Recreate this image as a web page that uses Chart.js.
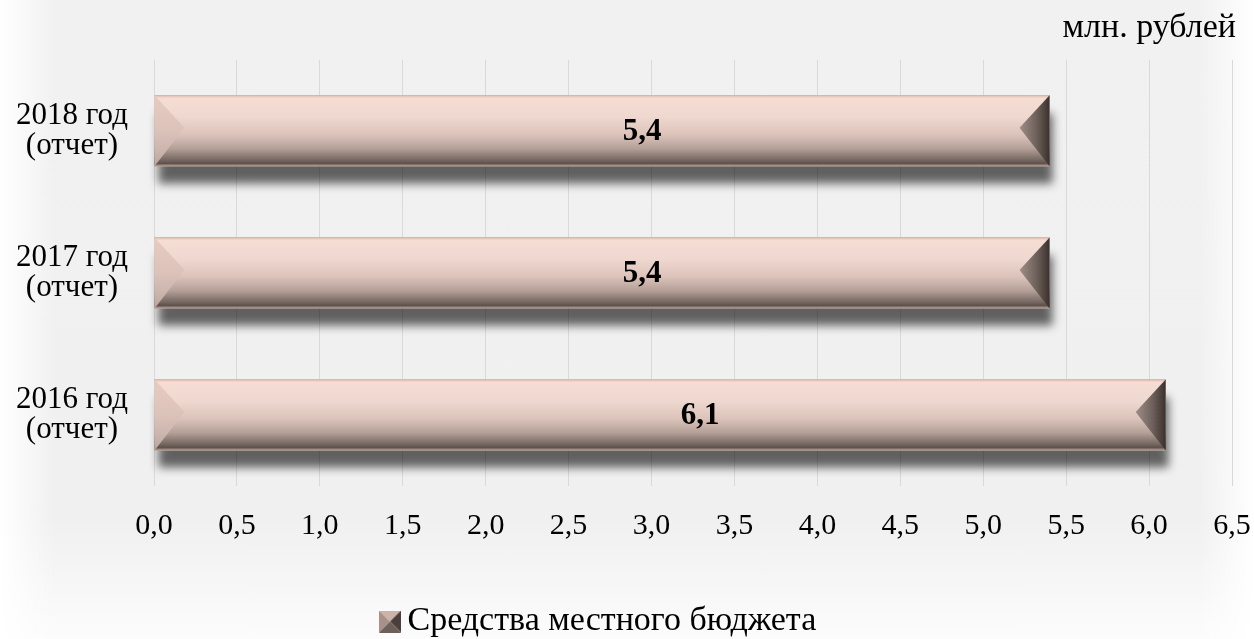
<!DOCTYPE html>
<html lang="ru">
<head>
<meta charset="utf-8">
<title>Средства местного бюджета</title>
<script src="https://cdn.jsdelivr.net/npm/chart.js@4.4.1/dist/chart.umd.min.js"></script>
<style>
  html, body { margin: 0; padding: 0; }
  body {
    width: 1254px;
    height: 639px;
    overflow: hidden;
    background:
      linear-gradient(to right, #fff 0, rgba(255,255,255,0) 55px, rgba(255,255,255,0) 1199px, #fff 1254px),
      linear-gradient(to bottom, #f1f1f1 0, #f0f0f0 520px, #fcfcfc 639px);
  }
  #wrap { position: relative; width: 1254px; height: 639px; }
</style>
</head>
<body>
<div id="wrap"><canvas id="chart"></canvas></div>
<script>
// Data
const years = ["2016 год", "2017 год", "2018 год"];
const yearNote = "(отчет)";
const values = [6.1, 5.4, 5.4];
const seriesName = "Средства местного бюджета";
const unitLabel = "млн. рублей";
const xMin = 0;
const xMax = 6.5;
const xStep = 0.5;

const fontFamily = '"Liberation Serif", "Times New Roman", serif';
Chart.defaults.font.family = fontFamily;
Chart.defaults.color = "#000";

// Number with a comma like in the original
const fmt = (v) => Number(v).toFixed(1).replace(".", ",");

// Small bevelled square for the legend
const legendIcon = document.createElement("canvas");
legendIcon.width = 22;
legendIcon.height = 22;
(() => {
  const c = legendIcon.getContext("2d");
  const s = 22, m = 11;
  const faces = [
    { pts: [[0, 0], [s, 0], [m, m]], color: "#cdb2a8" },   // top
    { pts: [[0, 0], [m, m], [0, s]], color: "#a99189" },   // left
    { pts: [[s, 0], [s, s], [m, m]], color: "#4a3f3b" },   // right
    { pts: [[0, s], [m, m], [s, s]], color: "#6d605a" },   // bottom
  ];
  faces.forEach((f) => {
    c.beginPath();
    c.moveTo(f.pts[0][0], f.pts[0][1]);
    c.lineTo(f.pts[1][0], f.pts[1][1]);
    c.lineTo(f.pts[2][0], f.pts[2][1]);
    c.closePath();
    c.fillStyle = f.color;
    c.fill();
  });
})();

// Draws every bar with a bevel, its shadow and the value label
const bevelBars = {
  id: "bevelBars",
  afterDatasetsDraw(chart) {
    const ctx = chart.ctx;
    const meta = chart.getDatasetMeta(0);
    meta.data.forEach((bar, i) => {
      const { x, y, base, height } = bar.getProps(["x", "y", "base", "height"], true);
      const left = Math.min(base, x);
      const right = Math.max(base, x);
      const top = y - height / 2;
      const bottom = y + height / 2;
      const w = right - left;
      const bw = 30;

      // shadow under the bar
      ctx.save();
      ctx.shadowColor = "rgba(0,0,0,0.6)";
      ctx.shadowBlur = 9;
      ctx.shadowOffsetX = 3;
      ctx.shadowOffsetY = 18;
      ctx.fillStyle = "#9a9a9a";
      ctx.fillRect(left, top, w, height);
      ctx.restore();

      // body
      const g = ctx.createLinearGradient(0, top, 0, bottom);
      g.addColorStop(0, "#dcb8ab");
      g.addColorStop(0.04, "#f5ddd4");
      g.addColorStop(0.3, "#efd8cf");
      g.addColorStop(0.55, "#dcc4bb");
      g.addColorStop(0.75, "#b4a098");
      g.addColorStop(0.9, "#7a6b65");
      g.addColorStop(0.96, "#5e524d");
      g.addColorStop(1, "#c9a89c");
      ctx.fillStyle = g;
      ctx.fillRect(left, top, w, height);

      // left bevel
      const gl = ctx.createLinearGradient(0, top, 0, bottom);
      gl.addColorStop(0, "#e6cbc0");
      gl.addColorStop(0.5, "#dcc3ba");
      gl.addColorStop(0.85, "#c6b1a9");
      gl.addColorStop(1, "#b9a49c");
      ctx.beginPath();
      ctx.moveTo(left, top);
      ctx.lineTo(left + bw, y - 3);
      ctx.lineTo(left, bottom);
      ctx.closePath();
      ctx.fillStyle = gl;
      ctx.fill();

      // right bevel
      const gr = ctx.createLinearGradient(right - bw, 0, right, 0);
      gr.addColorStop(0, "#a08e87");
      gr.addColorStop(0.6, "#6a5d58");
      gr.addColorStop(1, "#3a302c");
      ctx.beginPath();
      ctx.moveTo(right, top);
      ctx.lineTo(right - bw, y - 3);
      ctx.lineTo(right, bottom);
      ctx.closePath();
      ctx.fillStyle = gr;
      ctx.fill();

      // value label
      ctx.save();
      ctx.font = "bold 31px " + fontFamily;
      ctx.fillStyle = "#000";
      ctx.textAlign = "center";
      ctx.textBaseline = "middle";
      ctx.fillText(fmt(values[i]), (left + right) / 2 + 40, y + 1);
      ctx.restore();
    });
  },
};

// Moves the legend and the unit title like in the picture
const boxPlace = {
  id: "boxPlace",
  afterLayout(chart) {
    chart.legend.left = 369.5;
    chart.legend.top = 584.5;
    chart.titleBlock.right = 1236;
  },
};

new Chart(document.getElementById("chart"), {
  type: "bar",
  plugins: [bevelBars, boxPlace],
  data: {
    labels: years.map((y) => [y, yearNote]),
    datasets: [
      {
        label: seriesName,
        data: values,
        backgroundColor: "rgba(0,0,0,0)",
        borderWidth: 0,
        barPercentage: 0.5,
        categoryPercentage: 1,
      },
    ],
  },
  options: {
    indexAxis: "y",
    responsive: true,
    maintainAspectRatio: false,
    animation: false,
    layout: { padding: { left: 0, right: 22, top: 0, bottom: 0 } },
    scales: {
      x: {
        min: xMin,
        max: xMax,
        ticks: {
          stepSize: xStep,
          padding: 22,
          color: "#000",
          font: { size: 30, lineHeight: 1.2 },
          callback: (v) => fmt(v),
        },
        grid: { color: "#d9d9d9", drawTicks: false },
        border: { display: false },
        afterFit: (s) => {
          s.height = 89;
          s.paddingRight = 0;
        },
      },
      y: {
        reverse: true,
        grid: { display: false, drawTicks: false },
        border: { display: false },
        ticks: {
          crossAlign: "center",
          padding: 26,
          color: "#000",
          font: { size: 31, lineHeight: 0.95 },
        },
        afterFit: (s) => { s.width = 154; },
      },
    },
    plugins: {
      tooltip: { enabled: false },
      title: {
        display: true,
        text: unitLabel,
        align: "end",
        color: "#000",
        font: { size: 34, weight: "normal", lineHeight: 1.2 },
        padding: { top: 8, bottom: 11 },
      },
      legend: {
        position: "bottom",
        align: "start",
        labels: {
          usePointStyle: true,
          pointStyle: legendIcon,
          boxWidth: 1,
          boxHeight: 22,
          padding: 20,
          color: "#000",
          font: { size: 34 },
        },
      },
    },
  },
});
</script>
</body>
</html>
